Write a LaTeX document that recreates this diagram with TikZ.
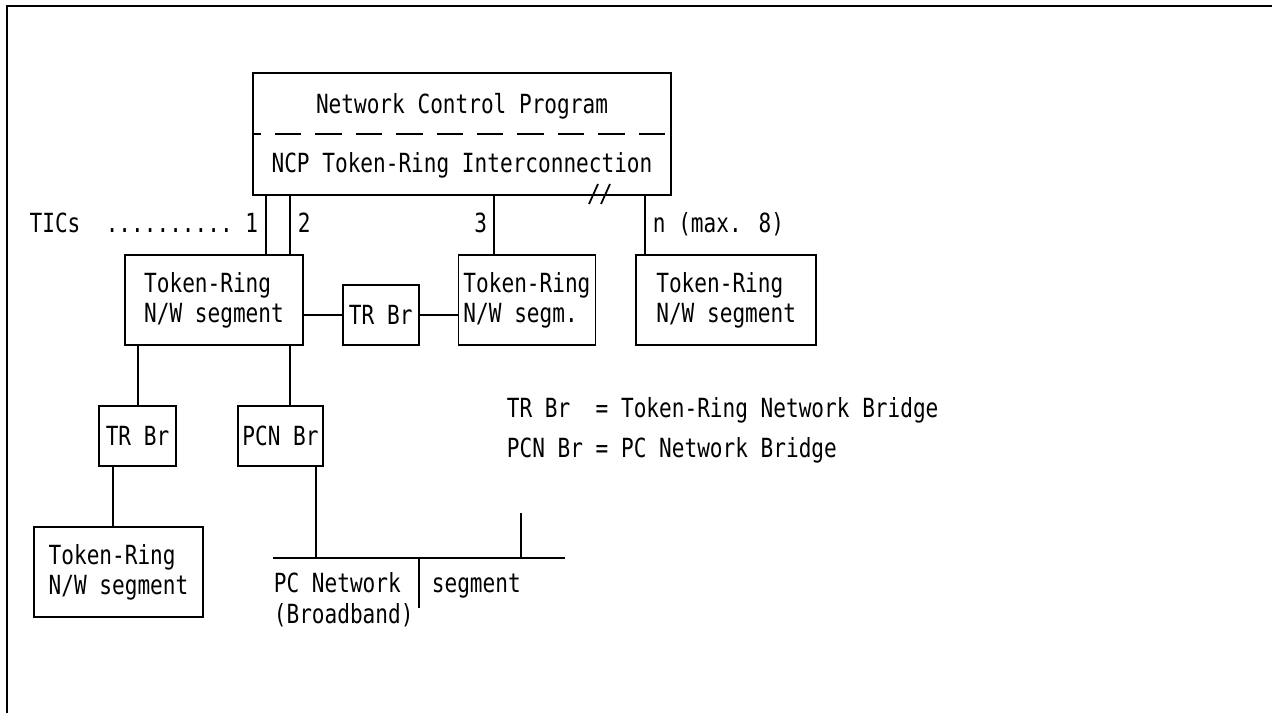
\documentclass[tikz,border=0pt]{standalone}
\usepackage{fontspec}
\setmainfont{DejaVu Sans Mono}[FakeStretch=0.8]
\usetikzlibrary{positioning}

\begin{document}
\begin{tikzpicture}[
        x=0.02cm, y=-0.02cm,
        line width=1pt,
        font=\fontsize{15}{17}\selectfont,
        seg/.style={rectangle, draw, align=left, minimum height=1.8cm, inner sep=0pt},
        bridge/.style={rectangle, draw, align=center, minimum height=1.2cm, inner sep=0pt},
        lbl/.style={inner sep=0pt, anchor=base west},
        frame/.style={line width=1.4pt}
    ]
        \useasboundingbox (0,0) rectangle (1272,713);
        \draw[frame] (1272,6) -- (7,6) -- (7,713);

        % host program
        \node[draw, minimum width=8.36cm, minimum height=2.44cm] (ncp) at (462,134) {};
        \node[lbl, anchor=base] (ncpprog) at (462,114) {Network Control Program};
        \node[lbl, anchor=base] (ncptic) at (462,173) {NCP Token-Ring Interconnection};
        \draw[dash pattern=on 15pt off 8pt, dash phase=10pt] (ncp.west) -- (ncp.east);
        \draw (589,204) -- (598,184) (601,204) -- (610,184);

        % segments
        \node[seg, minimum width=3.56cm] (trA) at (214,300) {Token-Ring\\N/W segment};
        \node[bridge, minimum width=1.52cm, right=0.76cm of trA.south east, anchor=south west] (brA) {TR Br};
        \node[seg, minimum width=2.74cm, right=0.76cm of brA.south east, anchor=south west] (trB) {Token-Ring\\N/W segm.};
        \node[seg, minimum width=3.6cm, right=0.78cm of trB] (trN) {Token-Ring\\N/W segment};
        \node[bridge, minimum width=1.54cm] (brB) at (137.5,436) {TR Br};
        \node[bridge, minimum width=1.7cm] (pcnbr) at (280.5,436) {PCN Br};
        \node[seg, minimum width=3.38cm] (trC) at (118.5,572) {Token-Ring\\N/W segment};

        % TICs
        \coordinate (tic1) at (266,0);
        \coordinate (tic2) at (290,0);
        \coordinate (tic3) at (494,0);
        \coordinate (ticn) at (645,0);
        \draw (tic1 |- ncp.south) -- (tic1 |- trA.north);
        \draw (tic2 |- ncp.south) -- (tic2 |- trA.north);
        \draw (tic3 |- ncp.south) -- (tic3 |- trB.north);
        \draw (ticn |- ncp.south) -- (ticn |- trN.north);
        \node[lbl, anchor=base east] (ticlbl) at (259,233) {TICs~~..........~1};
        \node[lbl] (tic2lbl) at (297,233) {2};
        \node[lbl, anchor=base east] (tic3lbl) at (488,233) {3};
        \node[lbl] (ticnlbl) at (652,233) {n (max. 8)};

        % bridges
        \draw (trA.east |- brA.west) -- (brA.west);
        \draw (brA.east) -- (brA.east -| trB.west);
        \coordinate (dropA) at (138,0);
        \coordinate (dropB) at (290,0);
        \coordinate (dropC) at (113,0);
        \coordinate (dropD) at (316,0);
        \draw (dropA |- trA.south) -- (dropA |- brB.north);
        \draw (dropB |- trA.south) -- (dropB |- pcnbr.north);
        \draw (dropC |- brB.south) -- (dropC |- trC.north);

        % PC network bus
        \coordinate (busL) at (273,558);
        \coordinate (busR) at (565,558);
        \coordinate (busmid) at (419,558);
        \coordinate (busend) at (521,558);
        \draw (busL) -- (busR);
        \draw (dropD |- pcnbr.south) -- (dropD |- busL);
        \draw (busmid) -- ++(0,50);
        \draw (busend) -- ++(0,-45);
        \node[lbl] (pcnet) at (273,592) {PC Network};
        \node[lbl] (pcnetb) at (273,623) {(Broadband)};
        \node[lbl] (pcseg) at (431,592) {segment};

        % key
        \node[lbl] (keytr) at (506,417) {TR Br~~= Token-Ring Network Bridge};
        \node[lbl] (keypcn) at (506,457) {PCN Br = PC Network Bridge};
    \end{tikzpicture}
\end{document}
